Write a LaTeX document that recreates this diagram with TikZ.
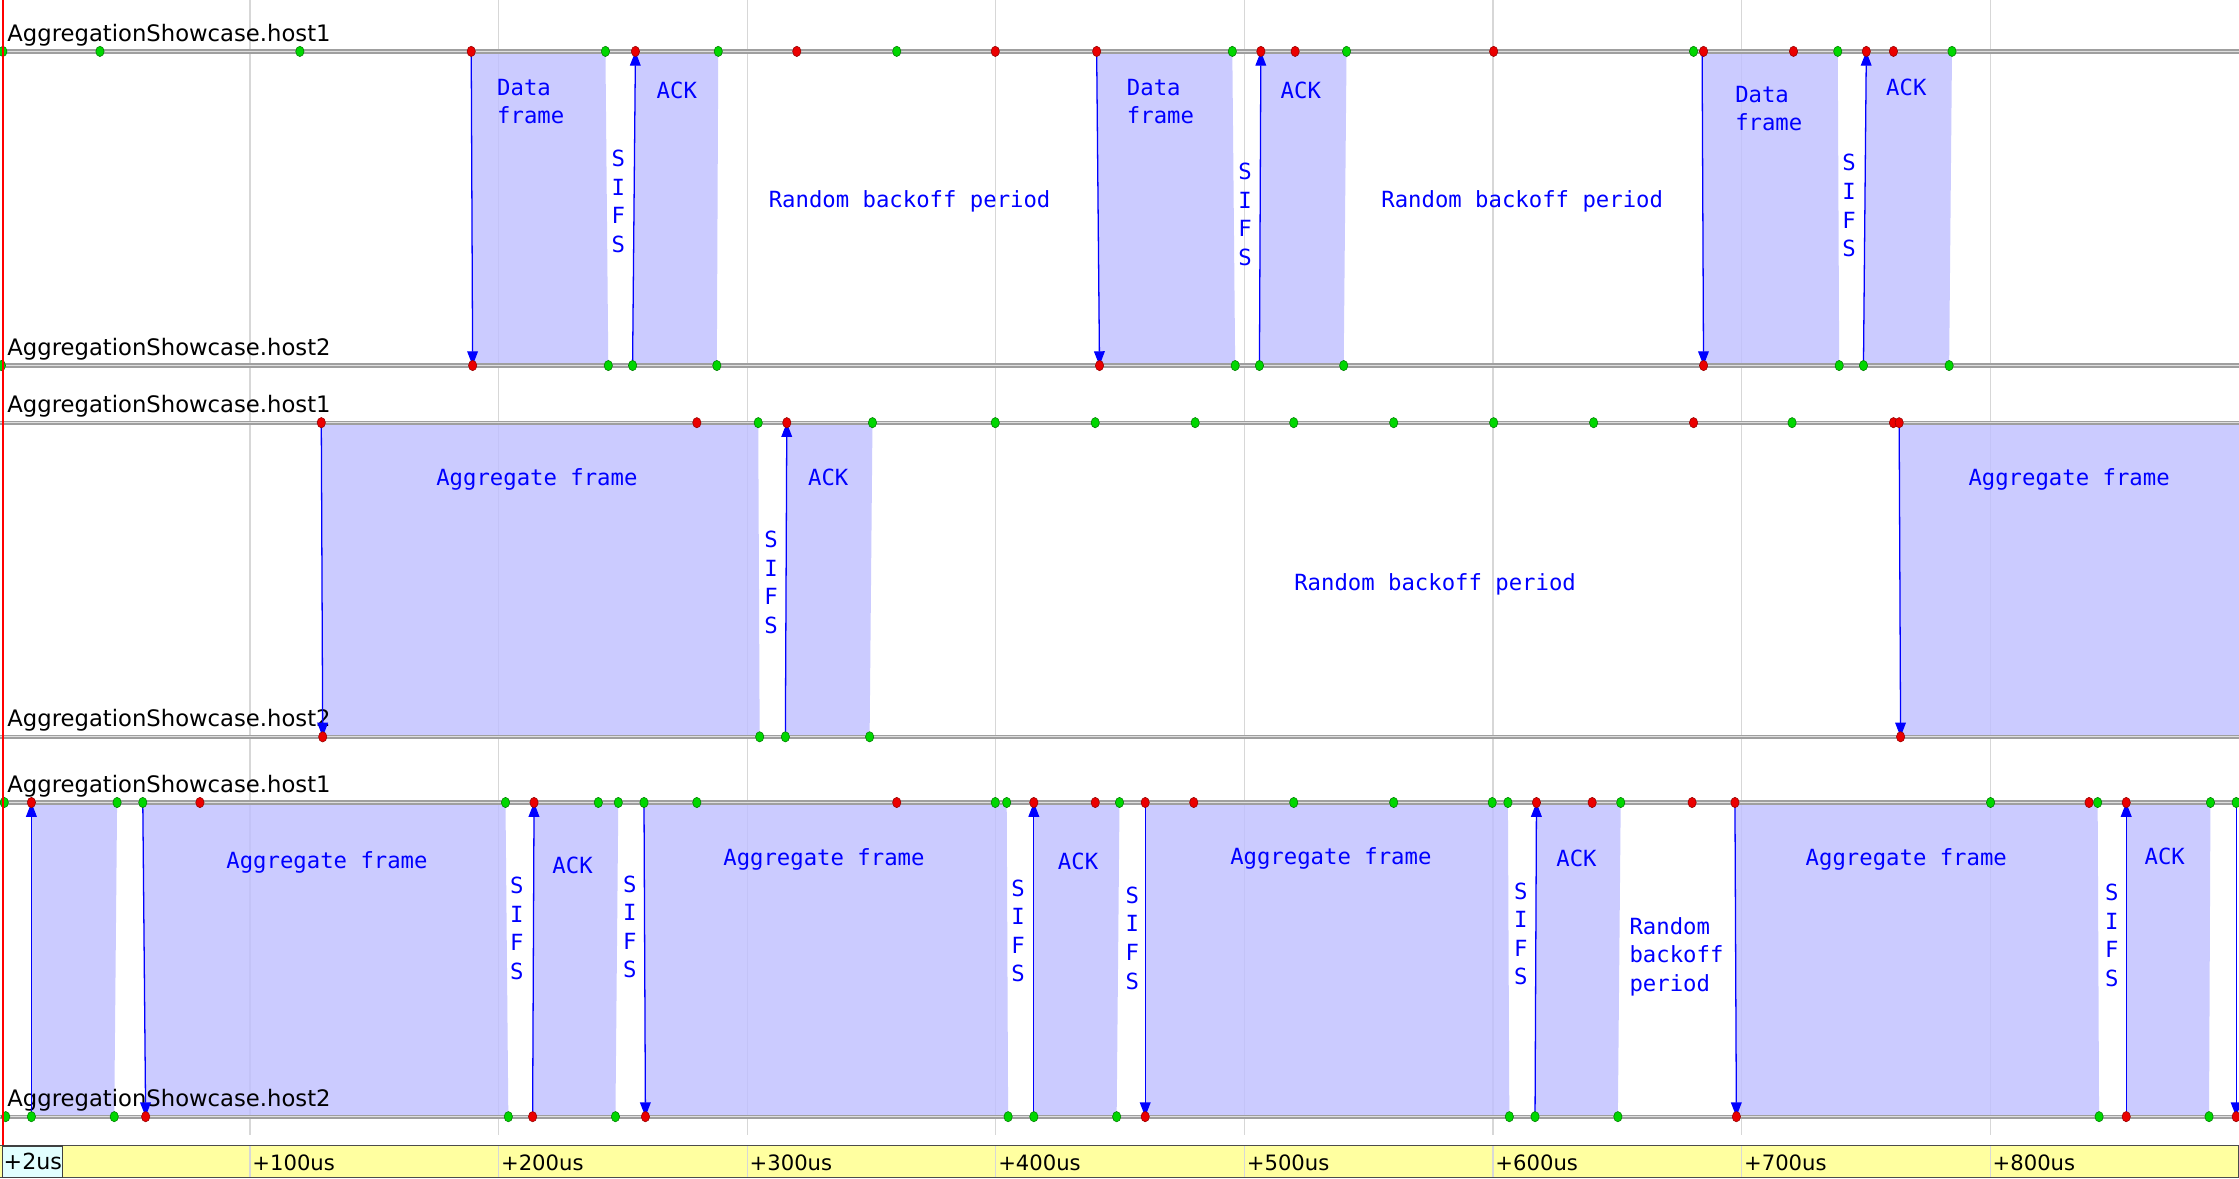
\documentclass[tikz,border=0pt]{standalone}
\usepackage{fontspec}
\setmainfont{DejaVu Sans}
\newfontfamily\monofont{DejaVu Sans Mono}
\usetikzlibrary{arrows.meta}
\definecolor{shadeblue}{RGB}{191,191,255}
\definecolor{dotred}{RGB}{235,0,0}
\definecolor{dotgreen}{RGB}{0,215,0}
\definecolor{gridgray}{RGB}{215,215,215}
\definecolor{baryellow}{RGB}{255,255,160}
\definecolor{barcyan}{RGB}{225,255,255}
\begin{document}
\begin{tikzpicture}[x=1pt,y=-1pt,
  framearea/.style={fill=shadeblue, fill opacity=0.8},
  msg/.style={blue, line width=0.9pt, -{Triangle[length=10pt,width=7.5pt]}},
  lbl/.style={text=blue, font=\monofont\fontsize{15.6}{20}\selectfont, inner sep=0pt},
  hostlbl/.style={font=\fontsize{15.9}{18}\selectfont, anchor=base west, inner sep=0pt},
  ticklbl/.style={font=\fontsize{14.8}{18}\selectfont, anchor=west, inner sep=0pt},
  dotr/.style={fill=dotred, draw=dotred!65!black, line width=0.4pt},
  dotg/.style={fill=dotgreen, draw=dotgreen!60!black, line width=0.4pt},
  axisline/.style={gray!75, line width=3pt},
  axisinner/.style={gray!25, line width=0.8pt}]
\useasboundingbox (0,0) rectangle (1568,825);
\fill[white] (0,0) rectangle (1568,825);
% grid
\foreach \k in {1,...,8} \draw[gridgray, line width=0.8pt] ({1+174.1*\k},0) -- ({1+174.1*\k},795);
% frame areas
\foreach \a/\b/\c/\d/\T/\B in {
  330/424/331/426/36/256, 445/503/443/502/36/256, 768/863/770/865/36/256,
  883/943/882/941/36/256, 1192/1287/1193/1288/36/256, 1307/1367/1305/1365/36/256,
  225/531/226/532/296/516, 551/611/550/609/296/516, 1330/1568/1331/1568/296/516,
  22/82/22/80/562/782, 100/354/102/356/562/782, 374/433/373/431/562/782,
  451/705/452/706/562/782, 724/784/724/782/562/782, 802/1056/802/1057/562/782,
  1076/1135/1075/1133/562/782, 1215/1469/1216/1470/562/782, 1489/1548/1489/1547/562/782}
  \fill[framearea] (\a,\T) -- (\b,\T) -- (\d,\B) -- (\c,\B) -- cycle;
% axes
\foreach \y in {36,256,296,516,562,782} {
  \draw[axisline] (0,\y) -- (1568,\y);
  \draw[axisinner] (0,\y) -- (1568,\y);
}
% host labels
\node[hostlbl] (h1a) at (5,29) {AggregationShowcase.host1};
\node[hostlbl] (h2a) at (5,249) {AggregationShowcase.host2};
\node[hostlbl] (h1b) at (5,289) {AggregationShowcase.host1};
\node[hostlbl] (h2b) at (5,509) {AggregationShowcase.host2};
\node[hostlbl] (h1c) at (5,555) {AggregationShowcase.host1};
\node[hostlbl] (h2c) at (5,775) {AggregationShowcase.host2};
% messages
\foreach \i/\xs/\ys/\xe/\ye in {
  1/330/36/331/256, 2/443/256/445/36, 3/768/36/770/256, 4/882/256/883/36,
  5/1192/36/1193/256, 6/1305/256/1307/36,
  7/225/296/226/516, 8/550/516/551/296, 9/1330/296/1331/516,
  10/22/782/22/562, 11/100/562/102/782, 12/373/782/374/562, 13/451/562/452/782,
  14/724/782/724/562, 15/802/562/802/782, 16/1075/782/1076/562, 17/1215/562/1216/782,
  18/1489/782/1489/562, 19/1566/562/1566/782} {
  \coordinate (m\i s) at (\xs,\ys);
  \coordinate (m\i e) at (\xe,\ye);
  \draw[msg] (m\i s) -- (m\i e);
}
% dots
\foreach \x/\s in {2/g,70/g,210/g,330/r,424/g,445/r,503/g,558/r,628/g,697/r,768/r,863/g,883/r,907/r,943/g,1046/r,1186/g,1193/r,1256/r,1287/g,1307/r,1326/r,1367/g}
  \path[dot\s] (\x,36) ellipse [x radius=2.9, y radius=3.6];
\foreach \x/\s in {1/g,331/r,426/g,443/g,502/g,770/r,865/g,882/g,941/g,1193/r,1288/g,1305/g,1365/g}
  \path[dot\s] (\x,256) ellipse [x radius=2.9, y radius=3.6];
\foreach \x/\s in {225/r,488/r,531/g,551/r,611/g,697/g,767/g,837/g,906/g,976/g,1046/g,1116/g,1186/r,1255/g,1326/r,1330/r}
  \path[dot\s] (\x,296) ellipse [x radius=2.9, y radius=3.6];
\foreach \x/\s in {226/r,532/g,550/g,609/g,1331/r}
  \path[dot\s] (\x,516) ellipse [x radius=2.9, y radius=3.6];
\foreach \x/\s in {3/g,22/r,82/g,100/g,140/r,354/g,374/r,419/g,433/g,451/g,488/g,628/r,697/g,705/g,724/r,767/r,784/g,802/r,836/r,906/g,976/g,1045/g,1056/g,1076/r,1115/r,1135/g,1185/r,1215/r,1394/g,1463/r,1469/g,1489/r,1548/g,1566/g}
  \path[dot\s] (\x,562) ellipse [x radius=2.9, y radius=3.6];
\foreach \x/\s in {4/g,22/g,80/g,102/r,356/g,373/r,431/g,452/r,706/g,724/g,782/g,802/r,1057/g,1075/g,1133/g,1216/r,1470/g,1489/r,1547/g,1566/r}
  \path[dot\s] (\x,782) ellipse [x radius=2.9, y radius=3.6];
% labels row 1
\node[lbl, align=left, anchor=west] (df1) at (348,71) {Data\\frame};
\node[lbl] (ack1) at (474,63) {ACK};
\node[lbl, align=center] (sifs1) at (433,141) {S\\I\\F\\S};
\node[lbl] (rb1) at (637,141) {Random backoff period};
\node[lbl, align=left, anchor=west] (df2) at (789,71) {Data\\frame};
\node[lbl] (ack2) at (911,63) {ACK};
\node[lbl, align=center] (sifs2) at (872,150) {S\\I\\F\\S};
\node[lbl] (rb2) at (1066,141) {Random backoff period};
\node[lbl, align=left, anchor=west] (df3) at (1215,76) {Data\\frame};
\node[lbl] (ack3) at (1335,61) {ACK};
\node[lbl, align=center] (sifs3) at (1295,144) {S\\I\\F\\S};
% labels row 2
\node[lbl] (ag1) at (376,336) {Aggregate frame};
\node[lbl, align=center] (sifs4) at (540,408) {S\\I\\F\\S};
\node[lbl] (ack4) at (580,334) {ACK};
\node[lbl] (rb3) at (1005,409) {Random backoff period};
\node[lbl] (ag2) at (1449,336) {Aggregate frame};
% labels row 3
\node[lbl] (ag3) at (229,604) {Aggregate frame};
\node[lbl, align=center] (sifs5) at (362,650) {S\\I\\F\\S};
\node[lbl] (ack5) at (401,606) {ACK};
\node[lbl, align=center] (sifs6) at (441,649) {S\\I\\F\\S};
\node[lbl] (ag4) at (577,602) {Aggregate frame};
\node[lbl, align=center] (sifs7) at (713,652) {S\\I\\F\\S};
\node[lbl] (ack6) at (755,603) {ACK};
\node[lbl, align=center] (sifs8) at (793,657) {S\\I\\F\\S};
\node[lbl] (ag5) at (932,601) {Aggregate frame};
\node[lbl, align=center] (sifs9) at (1065,654) {S\\I\\F\\S};
\node[lbl] (ack7) at (1104,601) {ACK};
\node[lbl, align=left, anchor=west] (rb4) at (1141,670) {Random\\backoff\\period};
\node[lbl] (ag6) at (1335,602) {Aggregate frame};
\node[lbl, align=center] (sifs10) at (1479,655) {S\\I\\F\\S};
\node[lbl] (ack8) at (1516,600) {ACK};
% timeline
\fill[baryellow] (0,802) rectangle (1568,825);
\foreach \k in {1,...,8} \draw[gridgray, line width=0.8pt] ({1+174.1*\k},802) -- ({1+174.1*\k},825);
\draw[black!70, line width=1pt] (0,802) -- (1568,802);
\draw[black!70, line width=1pt] (1567.5,802) -- (1567.5,825);
\draw[black!70, line width=1pt] (0,824.5) -- (1568,824.5);
\node[draw=black!75, line width=0.8pt, fill=barcyan, minimum width=42pt, minimum height=22pt, inner sep=0pt,
  font=\fontsize{15.5}{18}\selectfont] (t0) at (23,813.5) {+2us};
\foreach \k in {1,...,8} \node[ticklbl] (t\k) at ({2.5+174.1*\k},814) {+\k00us};
% red cursor line
\draw[red, line width=1.4pt] (2,0) -- (2,802);
\end{tikzpicture}
\end{document}
